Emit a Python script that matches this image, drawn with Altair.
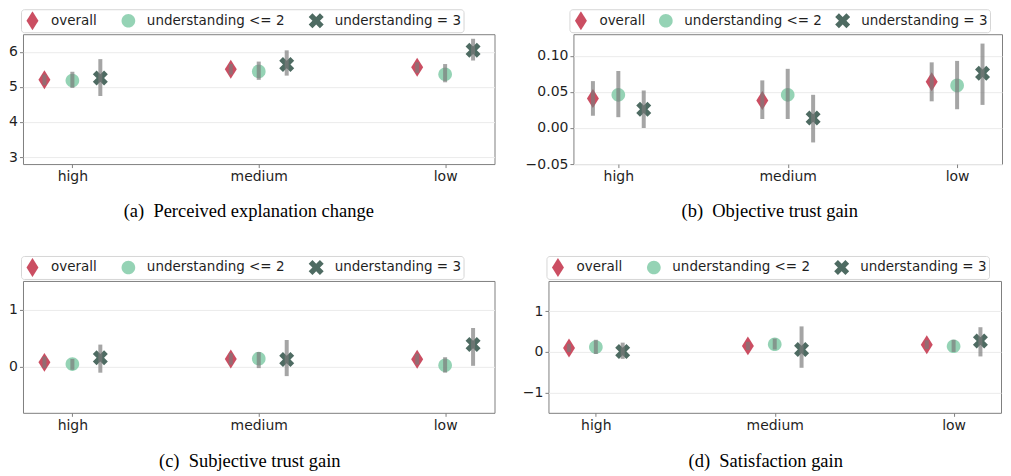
import json
import altair as alt
import pandas as pd

# ---- data -------------------------------------------------------------
levels = ["high", "medium", "low"]
groups = ["overall", "understanding <= 2", "understanding = 3"]

# means / lower / upper CI per level (rows) and group (columns)
means_a = [[5.20, 5.18, 5.25], [5.50, 5.44, 5.64], [5.56, 5.36, 6.04]]
lo_a = [[5.05, 4.97, 4.74], [5.35, 5.20, 5.32], [5.40, 5.13, 5.75]]
hi_a = [[5.35, 5.43, 5.79], [5.65, 5.72, 6.04], [5.70, 5.65, 6.37]]

means_b = [[0.041, 0.046, 0.026], [0.038, 0.046, 0.014], [0.064, 0.059, 0.076]]
lo_b = [[0.017, 0.015, 0.000], [0.0125, 0.0125, -0.020], [0.037, 0.026, 0.032]]
hi_b = [[0.065, 0.079, 0.052], [0.066, 0.082, 0.046], [0.091, 0.093, 0.117]]

means_c = [[0.08, 0.05, 0.16], [0.14, 0.145, 0.13], [0.135, 0.03, 0.39]]
lo_c = [[-0.02, -0.05, -0.10], [0.04, -0.02, -0.16], [0.04, -0.10, 0.02]]
hi_c = [[0.18, 0.14, 0.39], [0.24, 0.26, 0.47], [0.23, 0.17, 0.68]]

means_d = [[0.10, 0.12, 0.01], [0.15, 0.19, 0.06], [0.18, 0.14, 0.27]]
lo_d = [[0.00, -0.05, -0.17], [0.05, 0.06, -0.39], [0.07, 0.00, -0.11]]
hi_d = [[0.20, 0.30, 0.23], [0.25, 0.33, 0.63], [0.29, 0.30, 0.61]]

captions = [
    "(a)\u2002Perceived explanation change",
    "(b)\u2002Objective trust gain",
    "(c)\u2002Subjective trust gain",
    "(d)\u2002Satisfaction gain",
]

# ---- styles -----------------------------------------------------------
colors = ["#c4354c", "#86cdab", "#35574c"]
thin_diamond = "M0,-1L0.63,0L0,1L-0.63,0Z"
circle = "M-0.72,0A0.72,0.72,0,1,1,0.72,0A0.72,0.72,0,1,1,-0.72,0Z"
xcross = ("M0.395,-0.79L0.79,-0.395L0.395,0L0.79,0.395L0.395,0.79L0,0.395"
          "L-0.395,0.79L-0.79,0.395L-0.395,0L-0.79,-0.395L-0.395,-0.79L0,-0.395Z")
shapes = [thin_diamond, circle, xcross]
offsets = {"overall": -0.15, "understanding <= 2": 0.0, "understanding = 3": 0.15}

pos_expr = (
    f"indexof({json.dumps(levels)}, datum.level) + "
    f"(datum.group == 'overall' ? {offsets['overall']} : "
    f"datum.group == 'understanding = 3' ? {offsets['understanding = 3']} : 0)"
)


def make_df(means, lows, highs):
    rows = []
    for i, lev in enumerate(levels):
        for j, g in enumerate(groups):
            rows.append({"level": lev, "group": g, "mean": means[i][j],
                         "lo": lows[i][j], "hi": highs[i][j]})
    return pd.DataFrame(rows)


def panel(means, lows, highs, ydom, yticks, yfmt, width, height, caption, dx,
          lx=-2, colpad=22, toff=18):
    df = make_df(means, lows, highs)
    base = alt.Chart(df).transform_calculate(pos=pos_expr)
    x = alt.X("pos:Q", title=None,
              scale=alt.Scale(domain=[-0.265, 2.265], nice=False, zero=False),
              axis=alt.Axis(values=[0, 1, 2], grid=False,
                            labelExpr=f"{json.dumps(levels)}[datum.value]"))
    yscale = alt.Scale(domain=ydom, nice=False, zero=False)
    yaxis = alt.Axis(values=yticks, format=yfmt, grid=True)
    legend = alt.Legend(orient="none", legendX=lx, legendY=-25, direction="horizontal",
                        columns=3, title=None, columnPadding=colpad)
    pts = base.mark_point(filled=True, opacity=0.88, size=361, strokeWidth=0).encode(
        x=x,
        y=alt.Y("mean:Q", title=None, scale=yscale, axis=yaxis),
        color=alt.Color("group:N", scale=alt.Scale(domain=groups, range=colors), legend=legend),
        shape=alt.Shape("group:N", scale=alt.Scale(domain=groups, range=shapes), legend=legend),
    )
    bars = base.mark_rule(strokeWidth=4, color="#7a7a7a", opacity=0.68).encode(
        x=x, y=alt.Y("lo:Q", scale=yscale), y2="hi:Q")
    return alt.layer(pts, bars).properties(
        width=width, height=height,
        title=alt.TitleParams(caption, orient="bottom", anchor="middle", dx=dx, offset=toff,
                              font="Liberation Serif", fontSize=18.5, fontWeight="normal",
                              color="#000000"),
    )


pa = panel(means_a, lo_a, hi_a, [2.8, 6.5], [3, 4, 5, 6], "d", 472, 130, captions[0], -10)
pb = panel(means_b, lo_b, hi_b, [-0.05, 0.13], [-0.05, 0.0, 0.05, 0.10], ".2f", 429, 130,
           captions[1], -18, lx=-4, colpad=11)
pc = panel(means_c, lo_c, hi_c, [-0.8, 1.5], [0, 1], "d", 472, 132, captions[2], -9, toff=20)
pd_ = panel(means_d, lo_d, hi_d, [-1.5, 1.75], [-1, 0, 1], "d", 453, 132, captions[3], -9, toff=20)


def row(left, right, sp):
    return alt.hconcat(left, right, spacing=sp, bounds="flush").resolve_scale(
        x="independent", y="independent", color="independent", shape="independent"
    ).resolve_legend(color="independent", shape="independent")


chart = alt.vconcat(row(pa, pb, 79), row(pc, pd_, 54), spacing=34, bounds="full").resolve_scale(
    x="independent", y="independent", color="independent", shape="independent"
).resolve_legend(color="independent", shape="independent").properties(
    padding=0, background="white"
).configure_view(
    stroke="#808080", strokeWidth=1
).configure_axis(
    labelFont="DejaVu Sans", labelFontSize=14, labelColor="#1f1f1f",
    tickColor="#808080", tickSize=3.5, labelPadding=2, domain=False,
    gridColor="#ebebeb", gridWidth=1,
).configure_legend(
    labelFont="DejaVu Sans", labelFontSize=13.5, labelColor="#1f1f1f",
    symbolSize=361, symbolOpacity=0.88, symbolStrokeWidth=0, labelOffset=9,
    padding=2, strokeColor="#d6d6d6", fillColor="#ffffff",
    cornerRadius=3, rowPadding=0, clipHeight=19,
)

chart.save("out.html", embed_options={"renderer": "svg", "actions": False})
